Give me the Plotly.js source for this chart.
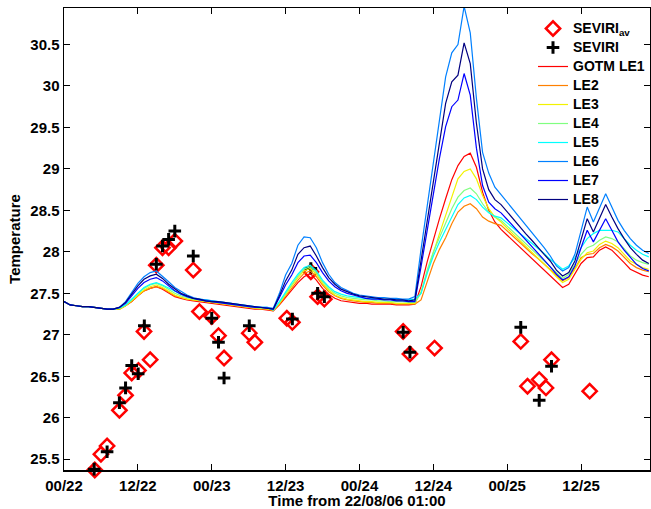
<!DOCTYPE html>
<html>
<head>
<meta charset="utf-8">
<script src="https://cdn.plot.ly/plotly-3.0.1.min.js"></script>
<style>html,body{margin:0;padding:0;background:#fff;}#chart{width:651px;height:509px;}</style>
</head>
<body>
<div id="chart"></div>
<script>
// model time axis (hours from start)
var hours = [0,1,2,3,4,5,6,7,8,9,10,11,12,13,14,15,16,17,18,19,20,21,22,23,24,25,26,27,28,29,30,31,32,33,34,35,36,37,38,39,40,41,42,43,44,45,46,47,48,49,50,51,52,53,54,55,56,57,58,59,60,61,62,63,64,65,66,67,68,69,70,71,72,73,74,75,76,77,78,79,80,81,82,83,84,85,86,87,88,89,90,91,92,93,94,95];

var le1 = [27.40,27.36,27.35,27.34,27.34,27.33,27.32,27.31,27.31,
  27.31,27.35,27.40,27.47,27.53,27.56,27.58,27.55,27.50,27.46,27.44,27.42,27.41,27.40,27.39,27.38,27.37,
  27.36,27.35,27.34,27.33,27.32,27.31,27.31,27.30,
  27.29,27.36,27.45,27.54,27.63,27.70,27.74,27.66,27.56,27.49,27.44,27.41,27.40,27.39,27.38,27.38,27.37,27.37,
  27.37,27.37,27.36,27.36,27.36,
  27.37,27.58,27.88,28.15,28.40,28.64,28.87,29.04,29.15,29.19,
  29.02,28.72,28.50,28.36,28.27,
  28.20,28.13,28.06,27.99,27.92,27.85,27.78,27.71,27.64,27.57,
  27.61,27.73,27.86,27.93,27.94,28.02,28.06,28.02,27.95,27.87,27.79,27.75,27.72,27.70];
var le2 = [27.40,27.36,27.35,27.34,27.34,27.33,27.32,27.31,27.31,
  27.31,27.35,27.40,27.47,27.53,27.56,27.58,27.56,27.51,27.47,27.45,27.43,27.42,27.41,27.40,27.39,27.38,
  27.37,27.36,27.35,27.34,27.33,27.32,27.31,27.31,
  27.29,27.37,27.47,27.57,27.66,27.74,27.77,27.70,27.60,27.52,27.47,27.44,27.42,27.41,27.40,27.39,27.39,27.38,
  27.38,27.38,27.37,27.37,27.37,
  27.37,27.42,27.64,27.86,28.03,28.17,28.34,28.48,28.55,28.58,
  28.52,28.42,28.37,28.34,28.32,
  28.25,28.18,28.12,28.05,27.98,27.92,27.85,27.78,27.72,27.65,
  27.69,27.80,27.93,27.97,27.98,28.05,28.09,28.06,28.01,27.93,27.86,27.81,27.78,27.76];
var le3 = [27.40,27.36,27.35,27.34,27.34,27.33,27.32,27.31,27.31,
  27.31,27.35,27.41,27.48,27.54,27.58,27.60,27.57,27.52,27.48,27.45,27.43,27.42,27.41,27.40,27.39,27.38,
  27.37,27.36,27.35,27.34,27.33,27.32,27.32,27.31,
  27.30,27.38,27.49,27.59,27.69,27.77,27.80,27.73,27.62,27.54,27.48,27.45,27.43,27.42,27.41,27.40,27.40,27.39,
  27.39,27.39,27.38,27.38,27.38,
  27.38,27.52,27.76,27.99,28.22,28.44,28.66,28.88,28.97,29.00,
  28.88,28.68,28.52,28.42,28.36,
  28.28,28.21,28.14,28.07,27.99,27.92,27.85,27.78,27.70,27.63,
  27.67,27.79,27.91,27.99,28.01,28.09,28.13,28.10,28.05,27.97,27.89,27.85,27.81,27.79];
var le4 = [27.40,27.36,27.35,27.34,27.34,27.33,27.32,27.31,27.31,
  27.32,27.36,27.42,27.50,27.56,27.60,27.62,27.59,27.54,27.50,27.47,27.45,27.43,27.42,27.41,27.40,27.39,
  27.38,27.37,27.36,27.35,27.34,27.33,27.32,27.32,
  27.30,27.39,27.50,27.61,27.71,27.79,27.82,27.75,27.64,27.56,27.50,27.47,27.45,27.44,27.43,27.42,27.42,27.41,
  27.41,27.40,27.40,27.40,27.39,
  27.39,27.50,27.78,28.00,28.18,28.35,28.52,28.66,28.74,28.77,
  28.70,28.58,28.48,28.42,28.38,
  28.31,28.24,28.17,28.10,28.03,27.96,27.89,27.82,27.75,27.68,
  27.73,27.85,27.97,28.05,28.08,28.14,28.18,28.16,28.12,28.04,27.95,27.90,27.87,27.85];
var le5 = [27.40,27.36,27.35,27.34,27.34,27.33,27.32,27.31,27.31,
  27.32,27.36,27.43,27.51,27.57,27.61,27.63,27.60,27.56,27.52,27.49,27.46,27.44,27.43,27.42,27.41,27.40,
  27.39,27.38,27.37,27.36,27.35,27.34,27.33,27.33,
  27.30,27.40,27.52,27.63,27.73,27.81,27.84,27.77,27.66,27.58,27.52,27.49,27.47,27.46,27.45,27.44,27.44,27.43,
  27.43,27.43,27.42,27.42,27.42,
  27.43,27.50,27.74,27.95,28.12,28.27,28.43,28.57,28.65,28.68,
  28.63,28.54,28.47,28.43,28.41,
  28.35,28.29,28.22,28.16,28.10,28.04,27.98,27.91,27.85,27.79,
  27.83,27.93,28.05,28.16,28.22,28.26,28.26,28.26,28.24,28.16,28.08,28.02,27.97,27.94];
var le6 = [27.40,27.36,27.35,27.34,27.34,27.33,27.32,27.31,27.31,
  27.33,27.40,27.51,27.62,27.70,27.75,27.77,27.71,27.64,27.57,27.52,27.48,27.45,27.43,27.42,27.41,27.40,
  27.39,27.38,27.37,27.36,27.35,27.34,27.33,27.33,
  27.32,27.50,27.72,27.86,28.08,28.18,28.17,28.05,27.87,27.73,27.63,27.57,27.53,27.50,27.48,27.47,27.46,27.45,
  27.45,27.44,27.44,27.43,27.43,
  27.46,28.03,28.56,29.10,29.64,30.11,30.40,30.50,30.96,30.64,
  29.85,29.20,28.95,28.78,28.69,
  28.60,28.51,28.42,28.33,28.23,28.14,28.05,27.95,27.83,27.77,
  27.81,27.97,28.26,28.54,28.36,28.54,28.70,28.54,28.38,28.26,28.16,28.08,28.02,27.98];
var le7 = [27.40,27.36,27.35,27.34,27.34,27.33,27.32,27.31,27.31,
  27.33,27.38,27.47,27.56,27.63,27.67,27.69,27.65,27.59,27.53,27.49,27.46,27.44,27.42,27.41,27.40,27.39,
  27.38,27.37,27.36,27.35,27.34,27.33,27.33,27.32,
  27.31,27.45,27.60,27.72,27.87,27.95,27.96,27.87,27.75,27.65,27.58,27.53,27.50,27.48,27.46,27.44,27.43,27.43,
  27.42,27.42,27.41,27.41,27.40,
  27.40,27.82,28.26,28.70,29.13,29.51,29.75,29.83,30.15,29.89,
  29.25,28.80,28.60,28.52,28.47,
  28.39,28.31,28.22,28.14,28.06,27.98,27.90,27.82,27.73,27.66,
  27.70,27.83,28.05,28.26,28.12,28.26,28.40,28.26,28.12,28.02,27.93,27.85,27.80,27.77];
var le8 = [27.40,27.36,27.35,27.34,27.34,27.33,27.32,27.31,27.31,
  27.33,27.39,27.49,27.59,27.67,27.71,27.73,27.68,27.61,27.55,27.50,27.47,27.44,27.43,27.41,27.40,27.40,
  27.39,27.38,27.37,27.36,27.35,27.34,27.33,27.32,
  27.31,27.47,27.65,27.78,27.97,28.05,28.07,27.95,27.81,27.69,27.61,27.55,27.52,27.49,27.47,27.46,27.45,27.44,
  27.43,27.43,27.42,27.42,27.41,
  27.42,27.90,28.39,28.87,29.36,29.79,30.05,30.13,30.52,30.27,
  29.55,29.00,28.75,28.63,28.57,
  28.48,28.40,28.31,28.22,28.14,28.05,27.97,27.89,27.78,27.71,
  27.75,27.89,28.14,28.40,28.24,28.40,28.57,28.42,28.28,28.16,28.05,27.97,27.90,27.86];

// observations
var sevAvT = [5.0,6.0,7.0,9.0,10.0,11.0,12.1,13.0,14.0,15.0,16.0,17.0,18.0,21.0,22.0,24.0,25.1,26.0,30.1,31.0,36.2,37.1,40.1,41.2,42.3,55.1,56.2,60.2,74.2,75.3,77.2,78.3,79.2,85.4];
var sevAvV = [25.37,25.56,25.66,26.09,26.27,26.54,26.57,27.04,26.70,27.84,28.05,28.05,28.13,27.78,27.28,27.22,26.99,26.72,27.02,26.91,27.20,27.15,27.76,27.46,27.43,27.04,26.77,26.84,26.92,26.38,26.46,26.36,26.70,26.32];
var sevT = [4.9,7.0,9.0,10.0,11.0,12.05,13.05,15.0,16.0,17.0,18.0,21.0,24.0,25.1,26.0,30.1,37.1,40.1,41.2,42.3,55.1,56.2,74.2,77.2,79.2];
var sevV = [25.38,25.59,26.18,26.36,26.63,26.53,27.11,27.85,28.07,28.15,28.25,27.95,27.20,26.91,26.48,27.11,27.19,27.80,27.50,27.46,27.03,26.79,27.09,26.21,26.62];

var xTickVals = [0,12,24,36,48,60,72,84];
var xTickText = ['00/22','12/22','00/23','12/23','00/24','12/24','00/25','12/25'];
var yTickVals = [25.5,26,26.5,27,27.5,28,28.5,29,29.5,30,30.5];
var yTickText = ['25.5','26','26.5','27','27.5','28','28.5','29','29.5','30','30.5'];

var modelNames = ['GOTM LE1','LE2','LE3','LE4','LE5','LE6','LE7','LE8'];
var modelSeries = [le1,le2,le3,le4,le5,le6,le7,le8];
var modelColors = ['#ff0000','#ff8000','#f2f200','#80ff80','#00ffff','#0080ff','#0000ff','#000080'];

function legName(s) { return '<span style="font-size:14px">' + s + '</span>'; }

var traces = [
  {x: sevAvT, y: sevAvV, name: legName('SEVIRI<sub>av</sub>'), mode: 'markers', type: 'scatter', cliponaxis: false,
   marker: {symbol: 'diamond-open', size: 11, color: '#ff0000', line: {color: '#ff0000', width: 2.5}}},
  {x: sevT, y: sevV, name: legName('SEVIRI'), mode: 'markers', type: 'scatter', cliponaxis: false,
   marker: {symbol: 'cross-thin-open', size: 9, color: '#000000', line: {color: '#000000', width: 3}}}
];
for (var i = 0; i < modelSeries.length; i++) {
  traces.push({x: hours, y: modelSeries[i], name: legName(modelNames[i]), mode: 'lines', type: 'scatter',
    line: {color: modelColors[i], width: 1.2}});
}

var fam = 'Liberation Sans, Arial, Helvetica, sans-serif';
var tickFont = {family: fam, size: 15, color: '#000', weight: 'bold'};
var titleFont = {family: fam, size: 15, color: '#000', weight: 'bold'};
var legFont = {family: fam, size: 12, color: '#000', weight: 'bold'};

var layout = {
  width: 651, height: 509,
  margin: {l: 64, r: 1, t: 8, b: 39, pad: 0},
  paper_bgcolor: '#fff', plot_bgcolor: '#fff',
  font: tickFont,
  showlegend: true,
  legend: {x: 1.0, y: 0.987, xanchor: 'right', yanchor: 'top', bgcolor: 'rgba(0,0,0,0)',
           borderwidth: 0, font: legFont, tracegroupgap: 0},
  xaxis: {range: [0, 95.2], tickvals: xTickVals, ticktext: xTickText, ticks: 'inside', ticklen: 6,
          tickwidth: 1, tickcolor: '#000', showline: true, linecolor: '#000', linewidth: 1.5,
          mirror: 'ticks', showgrid: false, zeroline: false, tickfont: tickFont, ticklabelstandoff: 1,
          title: {text: 'Time from 22/08/06 01:00', font: titleFont, standoff: 3}},
  yaxis: {range: [25.37, 30.94], tickvals: yTickVals, ticktext: yTickText, ticks: 'inside', ticklen: 6,
          tickwidth: 1, tickcolor: '#000', showline: true, linecolor: '#000', linewidth: 1.5,
          mirror: 'ticks', showgrid: false, zeroline: false, tickfont: tickFont,
          title: {text: 'Temperature', font: titleFont, standoff: 6}}
};

Plotly.newPlot('chart', traces, layout, {displayModeBar: false, staticPlot: true});
</script>
</body>
</html>
